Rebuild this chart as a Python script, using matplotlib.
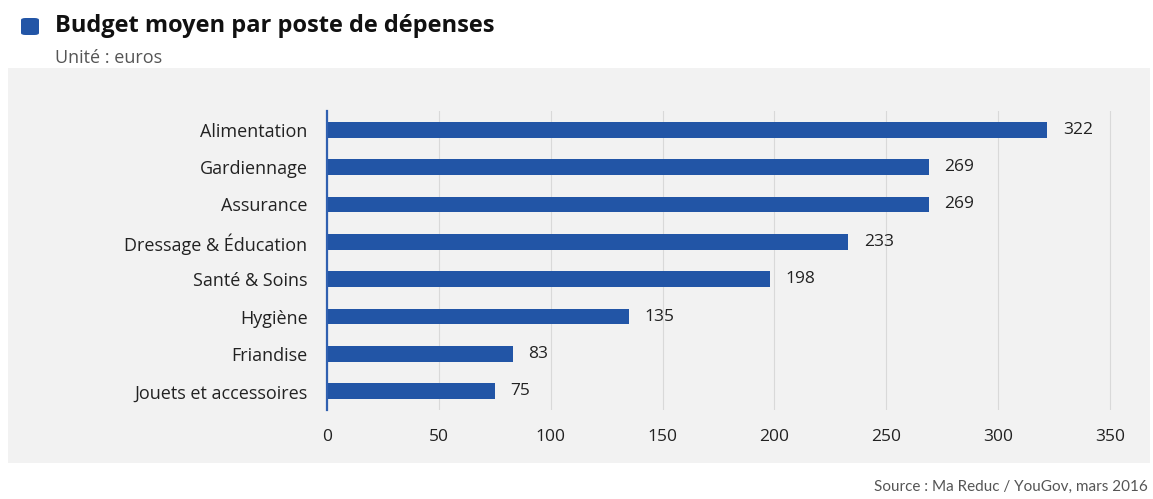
import matplotlib
matplotlib.use("Agg")
import matplotlib.pyplot as plt
from matplotlib.patches import Rectangle, FancyBboxPatch

categories = ["Alimentation", "Gardiennage", "Assurance", "Dressage & Éducation",
              "Santé & Soins", "Hygiène", "Friandise", "Jouets et accessoires"]
values = [322, 269, 269, 233, 198, 135, 83, 75]
xticks = [0, 50, 100, 150, 200, 250, 300, 350]

title = "Budget moyen par poste de dépenses"
subtitle = "Unité : euros"
source = "Source : Ma Reduc / YouGov, mars 2016"

BAR = "#2255a6"
PANEL = "#f2f2f2"
TEXT = "#222222"
FONT = "Open Sans"
SRC_FONT = "Lato"

W, H = 1153, 499
fig = plt.figure(figsize=(W / 100, H / 100), dpi=100)
fig.patch.set_facecolor("white")

# grey panel behind the chart
fig.patches.append(Rectangle((8 / W, 1 - 463 / H), (1150 - 8) / W, (463 - 68) / H,
                             transform=fig.transFigure, facecolor=PANEL,
                             edgecolor="none", zorder=-5))

# small square marker before the title
fig.patches.append(FancyBboxPatch((21 / W, 1 - 35 / H), 18 / W, 17 / H,
                                  boxstyle="round,pad=0,rounding_size=0.004",
                                  transform=fig.transFigure, facecolor=BAR,
                                  edgecolor="none", zorder=1))

fig.text(55 / W, 1 - 26 / H, title, fontsize=17, fontweight="bold",
         family=FONT, color="#111111", va="center", ha="left")
fig.text(55 / W, 1 - 58 / H, subtitle, fontsize=13, family=FONT,
         color="#555555", va="center", ha="left")
fig.text(1148 / W, 1 - 487 / H, source, fontsize=11, family=SRC_FONT,
         color="#555555", va="center", ha="right")

x0, x1 = 327, 1135
xmax = 350 * (x1 - x0) / (1110 - x0)
ax = fig.add_axes([x0 / W, 1 - 410 / H, (x1 - x0) / W, (410 - 111) / H])
ax.set_facecolor("none")
ax.set_zorder(2)

y = list(range(len(categories)))
ax.barh(y, values, height=0.42, color=BAR, zorder=3)
for yi, v in zip(y, values):
    ax.text(v + 7, yi, f"{v}", va="center", ha="left", fontsize=12.5,
            family=FONT, color=TEXT, zorder=4)

ax.set_ylim(len(categories) - 0.5, -0.5)
ax.set_xlim(0, xmax)
ax.set_yticks(y)
ax.set_yticklabels(categories, family=FONT, fontsize=13, color=TEXT)
ax.set_xticks(xticks)
ax.set_xticklabels([str(t) for t in xticks], family=FONT, fontsize=12.5, color=TEXT)
ax.tick_params(axis="y", length=0, pad=14)
ax.tick_params(axis="x", length=0, pad=14)
ax.grid(axis="x", color="#d9d9d9", linewidth=0.8, zorder=1)
for side in ["top", "right", "bottom"]:
    ax.spines[side].set_visible(False)
ax.spines["left"].set_color("#3060b0")
ax.spines["left"].set_linewidth(1.6)
ax.spines["left"].set_zorder(5)

fig.savefig("out.png", dpi=100, facecolor="white")
